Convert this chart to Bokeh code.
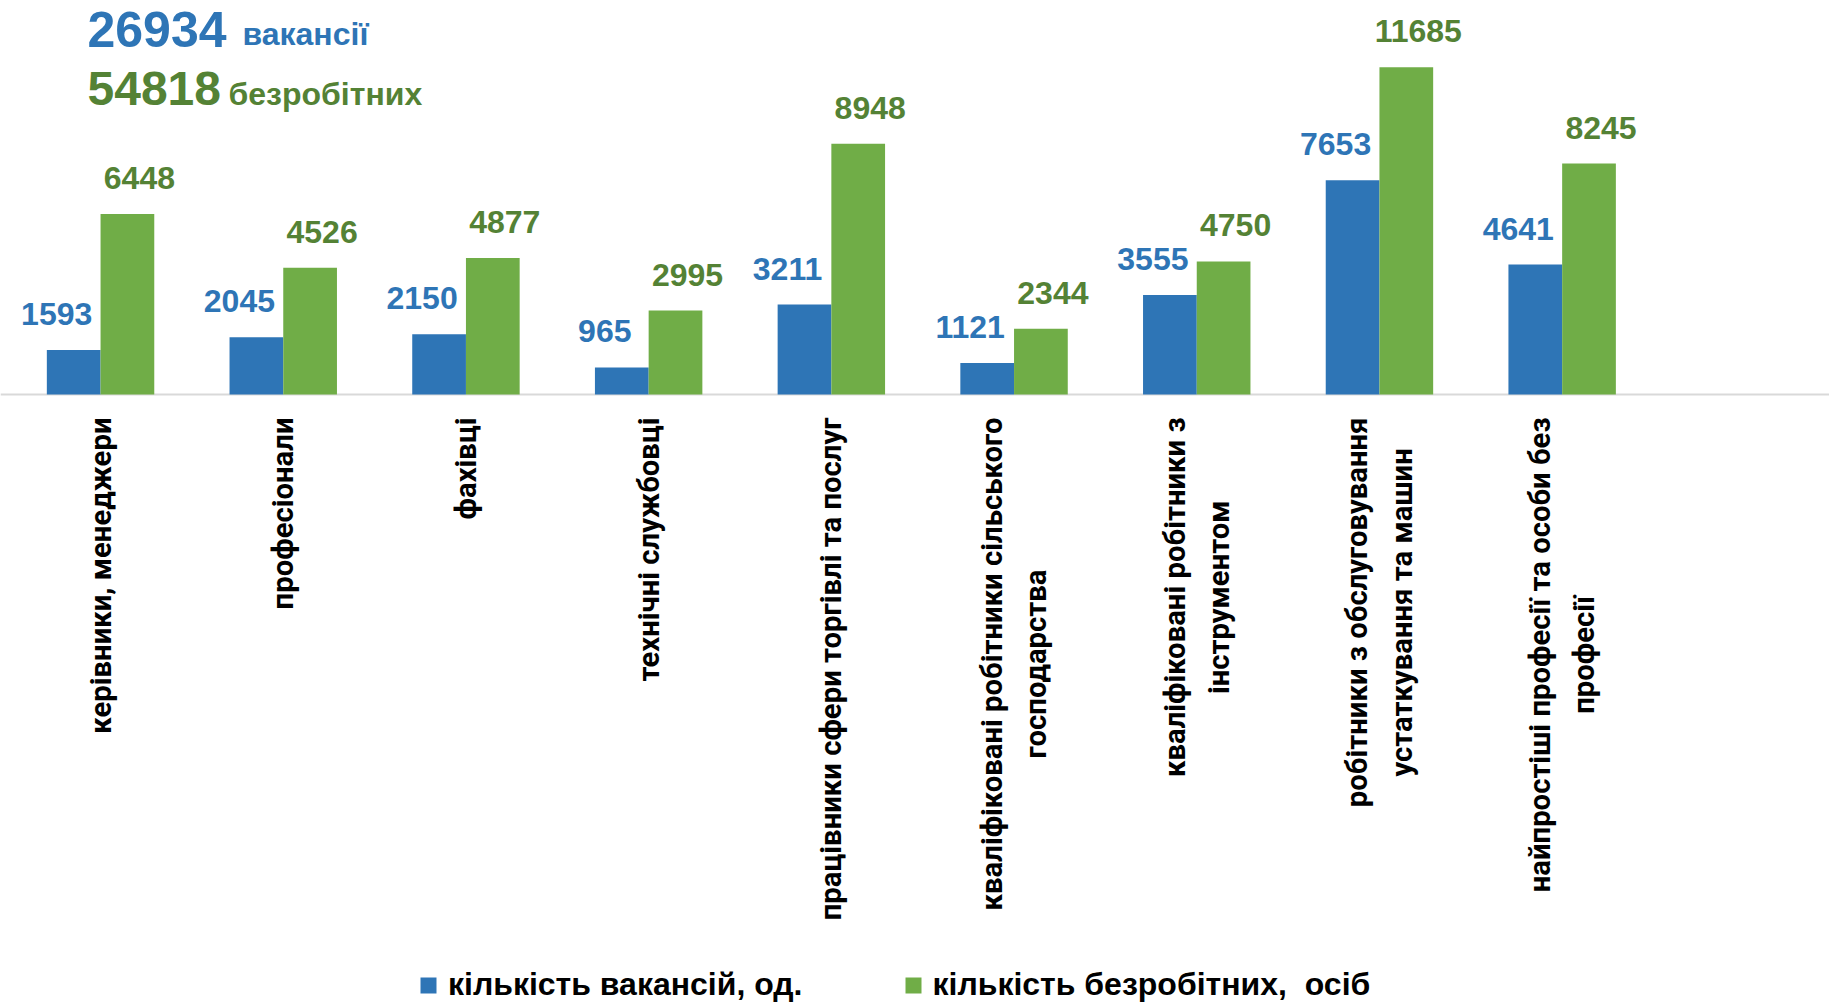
import numpy as np
from bokeh.plotting import figure
from bokeh.models import Range1d, Span, Legend, LegendItem, Label
from bokeh.core.properties import value
from bokeh.embed import file_html
from bokeh.resources import INLINE

# ---------------- data ----------------
categories = [
    "керівники, менеджери",
    "професіонали",
    "фахівці",
    "технічні службовці",
    "працівники сфери торгівлі та послуг",
    "кваліфіковані робітники сільського\nгосподарства",
    "кваліфіковані робітники з\nінструментом",
    "робітники з обслуговування\nустаткування та машин",
    "найпростіші професії та особи без\nпрофесії",
]
vacancies = [1593, 2045, 2150, 965, 3211, 1121, 3555, 7653, 4641]
unemployed = [6448, 4526, 4877, 2995, 8948, 2344, 4750, 11685, 8245]
series_names = ["кількість вакансій, од.", "кількість безробітних,  осіб"]
total_words = ["вакансії", "безробітних"]

# ---------------- style ----------------
BLUE = "#2E75B6"
GREEN = "#70AD47"
GREEN_TEXT = "#548235"
AXIS_GRAY = "#D9D9D9"
FONT = "Liberation Sans"
FONT_CAT = "Roboto"

W, H = 1829, 1003
X0_PX = 8.7             # page x of the left edge of the first category slot
CAT_PX = 182.7          # pixel width of one category slot
BASE_PX = 394           # baseline y (page px)
UNITS_PER_PX = 35.7     # value units per pixel

def X(px):
    return (px - X0_PX) / CAT_PX

def Y(px):
    return (BASE_PX - px) * UNITS_PER_PX

p = figure(width=W, height=H,
           x_range=Range1d(X(0), X(W)),
           y_range=Range1d(Y(H), Y(0)),
           output_backend="svg", toolbar_location=None, min_border=0)
p.axis.visible = False
p.grid.visible = False
p.outline_line_color = None
p.background_fill_color = "white"
p.border_fill_color = "white"

n = len(categories)
idx = np.arange(n)
bar_w = 0.294
xb = idx + 0.5 - bar_w / 2
xg = idx + 0.5 + bar_w / 2

p.add_layout(Span(location=0, dimension="width", line_color=AXIS_GRAY,
                  line_width=2, level="underlay"))

r_blue = p.vbar(x=xb, top=vacancies, bottom=0, width=bar_w,
                fill_color=BLUE, line_color=None)
r_green = p.vbar(x=xg, top=unemployed, bottom=0, width=bar_w,
                 fill_color=GREEN, line_color=None)

# value labels
p.text(x=xb, y=vacancies, text=[str(v) for v in vacancies],
       x_offset=-17, y_offset=-36, text_align="center", text_baseline="alphabetic",
       text_font=value(FONT), text_font_style="bold", text_font_size="32px",
       text_color=BLUE)
p.text(x=xg, y=unemployed, text=[str(v) for v in unemployed],
       x_offset=12, y_offset=-36, text_align="center", text_baseline="alphabetic",
       text_font=value(FONT), text_font_style="bold", text_font_size="32px",
       text_color=GREEN_TEXT)

# category labels (rotated)
p.text(x=idx + 0.5, y=np.zeros(n), text=categories, angle=np.pi / 2,
       anchor="center_right", text_align="center", x_offset=0, y_offset=23,
       text_font=value(FONT_CAT), text_font_style="bold", text_font_size="29.3px",
       text_color="black", text_line_height=1.3)

# totals
p.add_layout(Label(x=X(87), y=Y(29), text=str(sum(vacancies)), text_font=FONT,
                   text_font_style="bold", text_font_size="50px", text_color=BLUE,
                   text_baseline="alphabetic"))
p.add_layout(Label(x=X(242), y=Y(33), text=total_words[0], text_font=FONT,
                   text_font_style="bold", text_font_size="32px", text_color=BLUE,
                   text_baseline="alphabetic"))
p.add_layout(Label(x=X(87), y=Y(88), text=str(sum(unemployed)), text_font=FONT,
                   text_font_style="bold", text_font_size="48px", text_color=GREEN_TEXT,
                   text_baseline="alphabetic"))
p.add_layout(Label(x=X(228), y=Y(93), text=total_words[1], text_font=FONT,
                   text_font_style="bold", text_font_size="32px", text_color=GREEN_TEXT,
                   text_baseline="alphabetic"))

legend = Legend(items=[LegendItem(label=series_names[0], renderers=[r_blue]),
                       LegendItem(label=series_names[1], renderers=[r_green])],
                orientation="horizontal", location=(418, 0),
                glyph_width=20, glyph_height=20, label_standoff=10, spacing=100,
                padding=0, margin=0, border_line_color=None, background_fill_alpha=0,
                label_text_font=FONT, label_text_font_style="bold",
                label_text_font_size="32px", label_text_color="black")
p.add_layout(legend, "center")

open("out.html", "w").write(file_html(p, INLINE))
